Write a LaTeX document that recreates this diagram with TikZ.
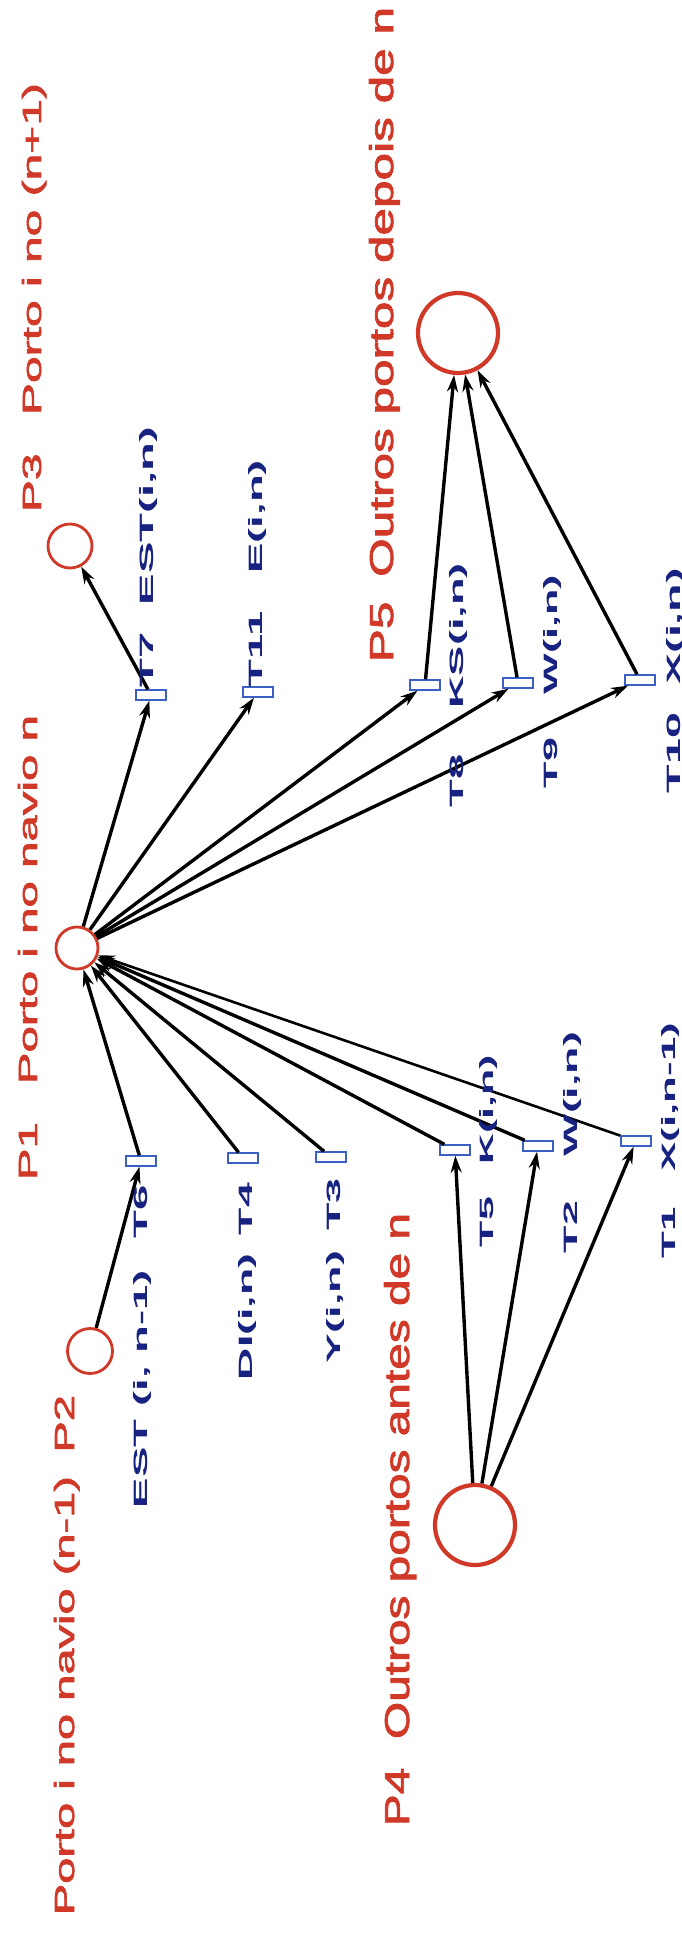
\documentclass[tikz,border=0pt]{standalone}
\usepackage{fontspec}
\setmainfont{Liberation Sans}
\newfontfamily\redfont[FakeBold=2]{Liberation Sans}
\usepackage{graphicx}
\usetikzlibrary{arrows.meta}
\definecolor{pred}{RGB}{208,56,40}
\definecolor{tblue}{RGB}{24,34,128}
\definecolor{bbar}{RGB}{60,95,195}
\begin{document}
\begin{tikzpicture}[x=1pt,y=-1pt,
  place/.style={circle, draw=pred, line width=2.8pt, fill=white, inner sep=0pt, minimum size=#1},
  bigplace/.style={place=#1, line width=4.2pt},
  trans/.style={rectangle, draw=bbar, line width=1.4pt, fill=white, minimum width=30pt, minimum height=10pt, inner sep=0pt},
  arc/.style={line width=3.4pt, -{Stealth[length=17pt,width=11pt]}},
  rlab/.style={text=pred, rotate=90, anchor=base, inner sep=0pt, font=\redfont},
  blab/.style={text=tblue, rotate=90, anchor=base, inner sep=0pt, font=\bfseries},
]
\useasboundingbox (0,0) rectangle (681,1936);
\fill[white] (0,0) rectangle (681,1936);

% places
\node[place=42pt] (P1) at (77,948) {};
\node[place=45pt] (P2) at (90,1351) {};
\node[place=44pt] (P3) at (70,546) {};
\node[bigplace=80pt] (P4) at (475,1525) {};
\node[bigplace=80pt] (P5) at (458,333) {};

% transitions
\node[trans] (T7) at (151,695) {};
\node[trans] (T11) at (258,692) {};
\node[trans] (T8) at (425,685) {};
\node[trans] (T9) at (518,683) {};
\node[trans] (T10) at (640,680) {};
\node[trans] (T6) at (141,1161) {};
\node[trans] (T4) at (243,1158) {};
\node[trans] (T3) at (331,1157) {};
\node[trans] (T5) at (455,1150) {};
\node[trans] (T2) at (538,1146) {};
\node[trans] (T1) at (636,1141) {};

% arcs
\draw[arc] (P1) -- (T7);
\draw[arc] (T7) -- (P3);
\draw[arc] (P1) -- (T11);
\draw[arc] (P1) -- (T8);
\draw[arc] (P1) -- (T9);
\draw[arc] (P1) -- (T10);
\draw[arc] (T8) -- (P5);
\draw[arc] (T9) -- (P5);
\draw[arc] (T10) -- (P5);
\draw[arc] (P2) -- (T6);
\draw[arc] (T6) -- (P1);
\draw[arc] (T4) -- (P1);
\draw[arc] (T3) -- (P1);
\draw[arc] (T5) -- (P1);
\draw[arc] (T2) -- (P1);
\draw[arc, line width=2.6pt] (T1) -- (P1);
\draw[arc] (P4) -- (T5);
\draw[arc] (P4) -- (T2);
\draw[arc] (P4) -- (T1);

% red labels
\node[rlab] (LP3) at (41,297.5) {\resizebox{429pt}{19pt}{P3\hspace{0.8em}Porto i no (n+1)}};
\node[rlab] (LP5) at (393,334.5) {\resizebox{655pt}{24pt}{P5\hspace{0.5em}Outros portos depois de n}};
\node[rlab] (LP1) at (37,947.5) {\resizebox{465pt}{19pt}{P1\hspace{0.8em}Porto i no navio n}};
\node[rlab] (LP4) at (409,1519.5) {\resizebox{613pt}{25pt}{P4\hspace{0.6em}Outros portos antes de n}};
\node[rlab] (LP2) at (74,1655) {\resizebox{520pt}{20pt}{Porto i no navio (n-1)\hspace{0.5em}P2}};

% blue labels
\node[blab] (LT7) at (153,557) {\resizebox{260pt}{14pt}{T7\hspace{0.57em}EST(i,n)}};
\node[blab] (LT11) at (262,573.5) {\resizebox{227pt}{14pt}{T11\hspace{0.82em}E(i,n)}};
\node[blab] (LT8) at (463,685) {\resizebox{244pt}{14pt}{T8\hspace{1em}KS(i,n)}};
\node[blab] (LT9) at (557,681.5) {\resizebox{213pt}{14pt}{T9\hspace{1em}W(i,n)}};
\node[blab] (LT10) at (680,680.5) {\resizebox{225pt}{14pt}{T10\hspace{0.6em}X(i,n)}};
\node[blab] (LT6) at (147,1346.5) {\resizebox{323pt}{14pt}{EST (i, n-1)\hspace{0.7em}T6}};
\node[blab] (LT4) at (252,1281.5) {\resizebox{197pt}{14pt}{DI(i,n)\hspace{0.42em}T4}};
\node[blab] (LT3) at (340,1270.5) {\resizebox{185pt}{14pt}{Y(i,n)\hspace{0.45em}T3}};
\node[blab] (LT5) at (493,1151) {\resizebox{192pt}{14pt}{T5\hspace{0.75em}K(i,n)}};
\node[blab] (LT2) at (577,1142.5) {\resizebox{221pt}{14pt}{T2\hspace{1em}W(i,n)}};
\node[blab] (LT1) at (675,1140.5) {\resizebox{235pt}{14pt}{T1\hspace{0.8em}X(i,n-1)}};
\end{tikzpicture}
\end{document}
